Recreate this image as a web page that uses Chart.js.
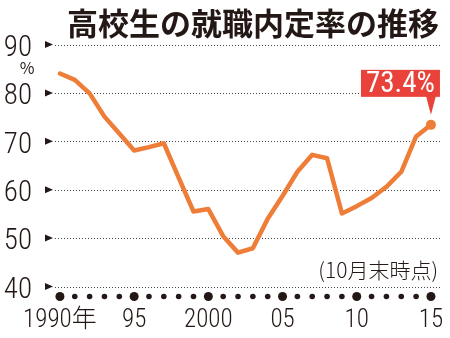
<!DOCTYPE html>
<html lang="ja">
<head>
<meta charset="utf-8">
<script src="https://cdn.jsdelivr.net/npm/chart.js@4.4.1/dist/chart.umd.min.js"></script>
<style>html, body { margin: 0; } #wrap { width: 450px; height: 338px; }</style>
</head>
<body>
<div id="wrap"><canvas id="rateChart"></canvas></div>
<script>
// 年（各年10月末時点）
const years = [1990, 1991, 1992, 1993, 1994, 1995, 1996, 1997, 1998, 1999,
               2000, 2001, 2002, 2003, 2004, 2005, 2006, 2007, 2008, 2009,
               2010, 2011, 2012, 2013, 2014, 2015];
// 就職内定率（%）
const rates = [84.0, 82.7, 79.9, 75.1, 71.6, 68.1, 68.8, 69.6, 62.5, 55.5,
               56.0, 50.4, 47.0, 47.9, 54.0, 58.7, 63.7, 67.2, 66.5, 55.1,
               56.6, 58.3, 60.6, 63.7, 71.0, 73.4];

// 目盛
const yTicks = [40, 50, 60, 70, 80, 90];
const xTickYears = [1990, 1995, 2000, 2005, 2010, 2015];
const xTickLabels = ['1990年', '95', '2000', '05', '10', '15'];

const TITLE = '高校生の就職内定率の推移';
const NOTE = '(10月末時点)';

const INK = '#231815';
const ORANGE = '#EE7D38';
const RED = '#E8423A';
const NUM_FONT = "'Roboto Condensed', 'Noto Sans CJK JP', sans-serif";
const JP_FONT = "'Noto Sans CJK JP', sans-serif";

const decorPlugin = {
  id: 'decor',
  beforeDatasetsDraw(chart) {
    const { ctx } = chart;
    const xs = chart.scales.x, ys = chart.scales.y;
    const left = xs.left, right = xs.right, bottom = ys.bottom;
    ctx.save();

    // 点線の目盛線
    ctx.strokeStyle = '#444';
    ctx.lineWidth = 1;
    ctx.setLineDash([1, 2]);
    for (const v of yTicks) {
      const py = Math.round(ys.getPixelForValue(v)) + 0.5;
      ctx.beginPath();
      ctx.moveTo(left + 1, py);
      ctx.lineTo(right, py);
      ctx.stroke();
    }
    ctx.setLineDash([]);

    // 目盛の矢印
    ctx.fillStyle = INK;
    for (const v of yTicks) {
      const py = ys.getPixelForValue(v);
      ctx.beginPath();
      ctx.moveTo(left - 9, py - 3.5);
      ctx.lineTo(left - 1, py);
      ctx.lineTo(left - 9, py + 3.5);
      ctx.closePath();
      ctx.fill();
    }

    // 年ごとの点（5年ごとに大きく）
    for (const yr of years) {
      const px = xs.getPixelForValue(yr);
      ctx.beginPath();
      ctx.arc(px, bottom + 10, yr % 5 === 0 ? 4.5 : 2.8, 0, Math.PI * 2);
      ctx.fill();
    }
    ctx.restore();
  },
  afterDatasetsDraw(chart) {
    const { ctx } = chart;
    const meta = chart.getDatasetMeta(0);
    const last = meta.data[meta.data.length - 1];
    const px = last.x, py = last.y;
    const label = rates[rates.length - 1].toFixed(1) + '%';

    ctx.save();
    ctx.fillStyle = RED;
    // 吹き出し本体
    ctx.fillRect(px - 70, py - 55, 79, 27);
    // しっぽ
    ctx.beginPath();
    ctx.moveTo(px - 5, py - 29);
    ctx.lineTo(px + 5, py - 29);
    ctx.lineTo(px, py - 10);
    ctx.closePath();
    ctx.fill();

    ctx.fillStyle = '#fff';
    ctx.font = '29px ' + NUM_FONT;
    ctx.textAlign = 'center';
    ctx.textBaseline = 'middle';
    ctx.fillText(label, px - 30.5, py - 40.5);
    ctx.restore();
  },
  afterDraw(chart) {
    const { ctx } = chart;
    const xs = chart.scales.x, ys = chart.scales.y;
    ctx.save();
    ctx.fillStyle = INK;

    // 見出し
    ctx.font = 'bold 31px ' + JP_FONT;
    ctx.textAlign = 'right';
    ctx.textBaseline = 'alphabetic';
    ctx.fillText(TITLE, xs.right - 1, 35);

    // 単位
    ctx.font = '16px ' + JP_FONT;
    ctx.textAlign = 'center';
    ctx.textBaseline = 'middle';
    ctx.fillText('%', 27, ys.getPixelForValue(90) + 23);

    // 注記
    ctx.font = '300 21px ' + JP_FONT;
    ctx.textAlign = 'right';
    ctx.textBaseline = 'alphabetic';
    ctx.fillText(NOTE, xs.right - 2, ys.bottom - 9);
    ctx.restore();
  }
};

new Chart(document.getElementById('rateChart'), {
  type: 'line',
  data: {
    datasets: [{
      data: years.map((yr, i) => ({ x: yr, y: rates[i] })),
      borderColor: ORANGE,
      borderWidth: 4.5,
      borderCapStyle: 'round',
      borderJoinStyle: 'round',
      tension: 0,
      fill: false,
      clip: false,
      // 最新値だけ点を打つ
      pointRadius: years.map((yr, i) => i === years.length - 1 ? 5 : 0),
      pointBackgroundColor: ORANGE,
      pointBorderWidth: 0
    }]
  },
  options: {
    responsive: true,
    maintainAspectRatio: false,
    animation: false,
    layout: { padding: { top: 44.5, right: 10, left: 0, bottom: 0 } },
    plugins: { legend: { display: false }, tooltip: { enabled: false } },
    scales: {
      x: {
        type: 'linear',
        min: 1989.6,
        max: 2015.61,
        afterBuildTicks(scale) {
          scale.ticks = xTickYears.map(v => ({ value: v }));
        },
        afterFit(scale) { scale.height = 51.5; },
        ticks: {
          color: INK,
          padding: 0,
          maxRotation: 0,
          autoSkip: false,
          font: { family: NUM_FONT, size: 25, weight: 300 },
          callback: (v, i) => xTickLabels[i]
        },
        // 目盛線は描かず、ラベル位置だけ下げる
        grid: { display: false, drawTicks: true, tickLength: 19 },
        border: { display: false }
      },
      y: {
        min: 40,
        max: 90,
        afterFit(scale) { scale.width = 54; },
        ticks: {
          color: INK,
          stepSize: 10,
          padding: 14,
          labelOffset: 4,
          font: { family: NUM_FONT, size: 29, weight: 300 }
        },
        // 点線はプラグイン側で引く
        grid: { display: false },
        border: { display: false }
      }
    }
  },
  plugins: [decorPlugin]
});
</script>
</body>
</html>
